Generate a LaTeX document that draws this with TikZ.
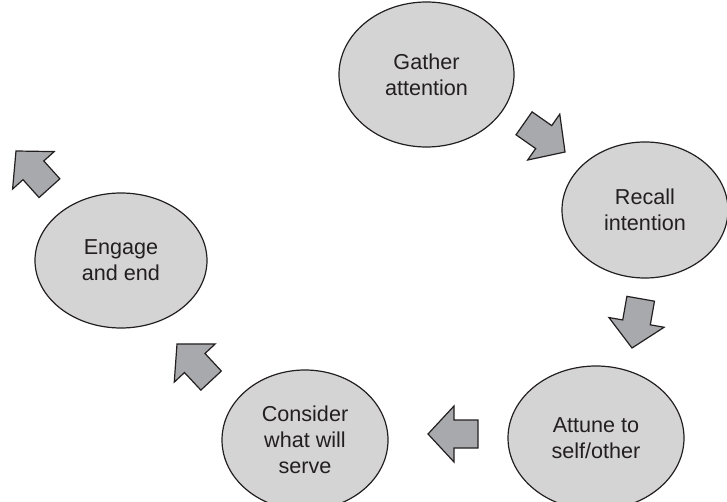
\documentclass[tikz,border=0pt]{standalone}
\usepackage{fontspec}
\setmainfont{Liberation Sans}
\usetikzlibrary{shapes.geometric}
\definecolor{ellfill}{HTML}{D4D4D5}
\definecolor{arrfill}{HTML}{A8A9AC}
\definecolor{ink}{HTML}{231F20}
\begin{document}
\begin{tikzpicture}[x=1pt,y=-1pt,
  stage/.style={ellipse, draw=ink, fill=ellfill, line width=1.2pt, inner sep=0pt, align=center, text=ink, font=\fontsize{21.6}{26}\selectfont},
  blockarrow/.pic={\draw[draw=ink, fill=arrfill, line width=1.2pt, line join=miter] (0,0)--(-26,28)--(-26,14)--(-50,14)--(-50,-14)--(-26,-14)--(-26,-28)--cycle;}]
\useasboundingbox (0,0) rectangle (727,502);
\clip (0,0) rectangle (727,502);
\node[stage, minimum width=175, minimum height=145] (gather) at (426.5,74.5) {Gather\\attention};
\node[stage, minimum width=166, minimum height=136] (recall) at (645,210) {Recall\\intention};
\node[stage, minimum width=176, minimum height=144] (attune) at (596,438) {Attune to\\self/other};
\node[stage, minimum width=166, minimum height=140] (consider) at (305,440) {Consider\\what will\\serve};
\node[stage, minimum width=172, minimum height=135] (engage) at (121,260.5) {Engage\\and end};
\pic[rotate=-35] (a1) at (565,152) {blockarrow};
\pic[rotate=-100] (a2) at (632,348) {blockarrow};
\pic[rotate=180] (a3) at (428,434) {blockarrow};
\pic[rotate=133] (a4) at (177,344) {blockarrow};
\pic[rotate=132] (a5) at (16,151) {blockarrow};
\end{tikzpicture}
\end{document}
